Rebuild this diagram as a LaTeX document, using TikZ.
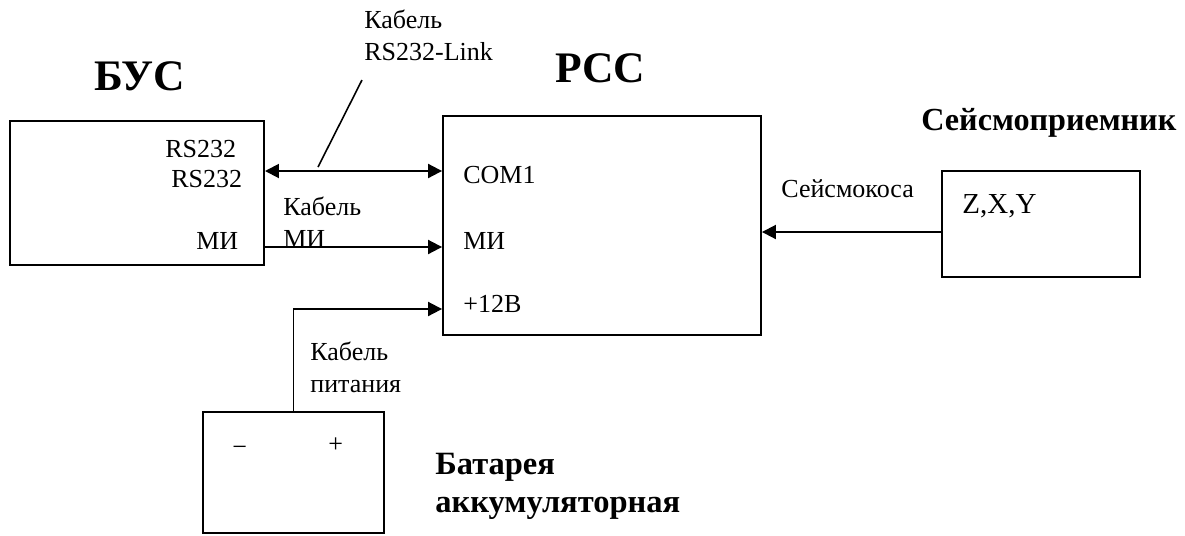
\documentclass[tikz,border=0pt]{standalone}
\usepackage{fontspec}
\setmainfont{Liberation Serif}
\usetikzlibrary{positioning,arrows.meta,calc}
\tikzset{
  block/.style={draw=black,line width=1.1pt,inner sep=0pt},
  lbl/.style={inner sep=0pt,anchor=base west,align=left,
    font=\fontsize{14.8}{18.2}\selectfont},
  bigtitle/.style={inner sep=0pt,anchor=base west,
    font=\fontsize{24.8}{28}\selectfont\bfseries},
  subtitle/.style={inner sep=0pt,anchor=base west,align=left,
    font=\fontsize{18.5}{21.3}\selectfont\bfseries},
  wire/.style={line width=1.1pt,draw=black},
  arrow/.style={wire,-{Triangle[length=2.8mm,width=2.8mm]}},
  twoway/.style={wire,{Triangle[length=2.8mm,width=2.8mm]}-{Triangle[length=2.8mm,width=2.8mm]}}
}
\begin{document}
\begin{tikzpicture}[x=0.02cm,y=-0.02cm]
  \useasboundingbox (0,0) rectangle (1185,535);

  % blocks
  \node[block, minimum width=5.09cm, minimum height=2.88cm] (bus) at (136.8,193) {};
  \node[block, minimum width=6.36cm, minimum height=4.38cm] (rss) at (602,225.5) {};
  \node[block, minimum width=3.96cm, minimum height=2.12cm] (seis) at (1041,224) {};
  \node[block, minimum width=3.62cm, minimum height=2.42cm] (bat) at (293.5,472.5) {};

  % titles (base = last line)
  \node[bigtitle] (busname) at (94,90) {БУС};
  \node[bigtitle] (rssname) at (555,82) {РСС};
  \node[subtitle, font=\fontsize{18.3}{21}\selectfont\bfseries] (seisname) at (921,130) {Сейсмоприемник};
  \node[subtitle] (batname) at (435,512) {Батарея\\аккумуляторная};

  % port labels
  \node[lbl] (busrs1) at (165,157) {RS232};
  \node[lbl] (busrs2) at (171,187) {RS232};
  \node[lbl] (busmi) at (196,249) {МИ};
  \node[lbl] (rsscom) at (463,183) {COM1};
  \node[lbl] (rssmi) at (463,249) {МИ};
  \node[lbl] (rsspow) at (463,312) {+12В};
  \node[lbl, font=\fontsize{16.5}{19}\selectfont] (seisaxes) at (962,213) {Z,X,Y};
  \node[lbl] (batminus) at (232,455) {−};
  \node[lbl] (batplus) at (328,452) {+};

  % cable labels
  \node[lbl] (lnk) at (364,60) {Кабель\\RS232-Link};
  \node[lbl] (milbl) at (283,247) {Кабель\\МИ};
  \node[lbl] (powlbl) at (310,392) {Кабель\\питания};
  \node[lbl] (seislbl) at (781,197) {Сейсмокоса};

  % wire levels
  \coordinate (yCom) at (0,171);
  \coordinate (yMi) at (0,247);
  \coordinate (yPow) at (0,309);
  \coordinate (ySeis) at (0,232);
  \coordinate (leadTop) at (362,80);
  \coordinate (leadEnd) at (318,167);

  % connectors
  \draw[twoway] (bus.east |- yCom) -- (rss.west |- yCom);
  \draw[arrow] (bus.east |- yMi) -- (rss.west |- yMi);
  \draw[arrow] (bat.north) |- (rss.west |- yPow);
  \draw[arrow] (seis.west |- ySeis) -- (rss.east |- ySeis);
  \draw[wire, line width=0.9pt] (leadTop) -- (leadEnd);
\end{tikzpicture}
\end{document}
